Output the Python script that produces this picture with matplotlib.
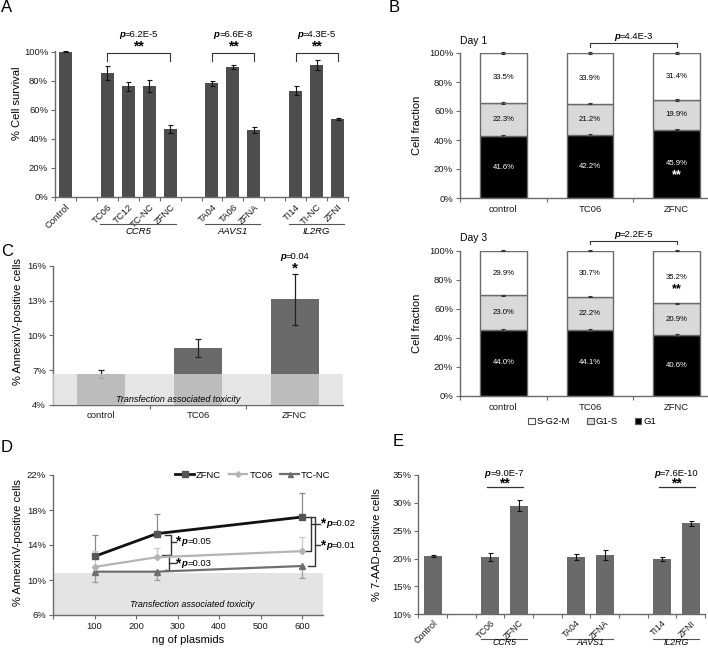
import numpy as np
import matplotlib
matplotlib.use('Agg')
import matplotlib.pyplot as plt
from matplotlib.patches import Patch
from matplotlib.transforms import offset_copy

plt.rcParams['font.family'] = ['Liberation Sans', 'DejaVu Sans']
plt.rcParams['font.size'] = 7

# ---------------- data ----------------
# A: cell survival
a_labels = ['Control', 'TC06', 'TC12', 'TC-NC', 'ZFNC', 'TA04', 'TA06', 'ZFNA', 'TI14', 'TI-NC', 'ZFNI']
a_vals = [100, 85.5, 76.2, 76.5, 46.8, 78.3, 89.7, 45.9, 73.3, 91.1, 53.9]
a_err = [0.4, 5.0, 3.0, 4.0, 2.5, 1.5, 1.5, 2.0, 3.0, 3.5, 0.8]
a_groups = ['CCR5', 'AAVS1', 'IL2RG']
a_pvals = ['6.2E-5', '6.6E-8', '4.3E-5']

# B: cell cycle
b_cats = ['control', 'TC06', 'ZFNC']
b_phases = ['S-G2-M', 'G1-S', 'G1']
b_day1_g1 = [41.6, 42.2, 45.9]
b_day1_g1s = [22.3, 21.2, 19.9]
b_day1_sg2m = [33.5, 33.9, 31.4]
b_day3_g1 = [44.0, 44.1, 40.6]
b_day3_g1s = [23.0, 22.2, 20.9]
b_day3_sg2m = [29.9, 30.7, 35.2]
b_pvals = ['4.4E-3', '2.2E-5']

# C: annexin V
c_cats = ['control', 'TC06', 'ZFNC']
c_vals = [6.65, 8.9, 13.1]
c_err = [0.35, 0.8, 2.2]

# D: dose response
d_ng = [100, 250, 600]
d_zfnc = [12.7, 15.3, 17.2]
d_tc06 = [11.5, 12.6, 13.3]
d_tcnc = [10.95, 10.95, 11.6]
d_zfnc_err = [2.5, 2.3, 2.8]
d_tc06_err = [1.8, 1.1, 1.6]
d_tcnc_err = [1.15, 1.0, 1.4]
d_band = 10.8

# E: 7-AAD
e_labels = ['Control', 'TC06', 'ZFNC', 'TA04', 'ZFNA', 'TI14', 'ZFNI']
e_vals = [20.4, 20.35, 29.5, 20.3, 20.65, 20.0, 26.3]
e_err = [0.2, 0.7, 0.95, 0.5, 0.9, 0.35, 0.4]
e_pvals = ['9.0E-7', '7.6E-10']

# layout slots (gaps between target groups)
a_pos = [0, 2, 3, 4, 5, 7, 8, 9, 11, 12, 13]
e_pos = [0, 2, 3, 5, 6, 8, 9]

W, H = 708, 648
fig = plt.figure(figsize=(W / 100, H / 100), dpi=100)
renderer = fig.canvas.get_renderer()


def rect(left, right, top, bottom):
    return [left / W, 1 - bottom / H, (right - left) / W, (bottom - top) / H]


def style_axes(ax):
    for s in ['top', 'right']:
        ax.spines[s].set_visible(False)
    for s in ['left', 'bottom']:
        ax.spines[s].set_color('#6a6a6a')
        ax.spines[s].set_linewidth(1.0)
    ax.tick_params(axis='both', which='both', colors='#6a6a6a', labelcolor='#1a1a1a',
                   labelsize=6.8, length=3, width=0.8, pad=2)


def rich_text(ax, x, y, parts, ha='center', size=6.8, transform=None):
    if transform is None:
        transform = ax.transData
    items = []
    total = 0
    for s, kw in parts:
        opts = dict(fontsize=size)
        opts.update(kw)
        t = ax.text(x, y, s, ha='left', va='center', transform=transform,
                    clip_on=False, **opts)
        w = t.get_window_extent(renderer).width
        items.append((t, w))
        total += w
    start = -total / 2 if ha == 'center' else 0
    for t, w in items:
        t.set_transform(offset_copy(transform, fig=fig, x=start, y=0, units='dots'))
        start += w


def p_label(ax, x, y, val, ha='center', size=6.8, star=False):
    parts = []
    if star:
        parts.append(('*', dict(fontweight='bold', fontsize=size + 3)))
    parts.append(('p', dict(fontweight='bold', style='italic')))
    parts.append(('=' + val, {}))
    rich_text(ax, x, y, parts, ha=ha, size=size)


def pct(ax, ticks):
    ax.set_yticks(ticks)
    ax.set_yticklabels([f'{t}%' for t in ticks])


# ---------------- A ----------------
axA = fig.add_axes(rect(55, 348, 51, 197))
style_axes(axA)
axA.bar(a_pos, a_vals, width=0.62, color='#4d4d4d', zorder=2)
axA.errorbar(a_pos, a_vals, yerr=a_err, fmt='none', ecolor='#111111', elinewidth=0.8,
             capsize=1.8, capthick=0.8, zorder=3)
axA.set_xlim(-0.5, 13.5)
axA.set_ylim(0, 100.6)
pct(axA, [0, 20, 40, 60, 80, 100])
axA.set_xticks(a_pos)
axA.set_xticklabels(a_labels, rotation=45, ha='right', rotation_mode='anchor')
axA.set_xticks(np.arange(-0.5, 14, 1), minor=True)
axA.tick_params(axis='x', which='major', length=0, pad=4)
axA.set_ylabel('% Cell survival', fontsize=8)
axA.yaxis.set_label_coords(-0.113, 0.64)
a_spans = [(2, 5), (7, 9), (11, 13)]
for (x0, x1), g, pv in zip(a_spans, a_groups, a_pvals):
    axA.plot([x0, x0, x1, x1], [93.8, 99.3, 99.3, 93.8], color='#333333', lw=0.8, clip_on=False)
    axA.text((x0 + x1) / 2, 103.5, '**', ha='center', va='center', fontsize=10,
             fontweight='bold', clip_on=False)
    p_label(axA, (x0 + x1) / 2, 112, pv)
    axA.plot([x0 - 0.33, x1 + 0.3], [-18.5, -18.5], color='#555555', lw=0.8, clip_on=False)
    axA.text((x0 + x1) / 2, -23.5, g, ha='center', va='center', style='italic',
             fontsize=6.8, clip_on=False)


# ---------------- B ----------------
def cycle_panel(top, bottom, g1, g1s, sg2m, day, pval, stars_phase):
    ax = fig.add_axes(rect(460, 708, top, bottom))
    style_axes(ax)
    x = np.arange(len(b_cats))
    g1, g1s, sg2m = np.array(g1), np.array(g1s), np.array(sg2m)
    tot = g1 + g1s + sg2m
    n1, n2, n3 = g1 / tot * 100, g1s / tot * 100, sg2m / tot * 100
    ec = '#6a6a6a'
    ax.bar(x, n1, width=0.54, color='black', edgecolor=ec, lw=1, zorder=2)
    ax.bar(x, n2, width=0.54, bottom=n1, color='#d9d9d9', edgecolor=ec, lw=1, zorder=2)
    ax.bar(x, n3, width=0.54, bottom=n1 + n2, color='white', edgecolor=ec, lw=1, zorder=2)
    for yy in [n1, n1 + n2, n1 + n2 + n3]:
        ax.errorbar(x, yy, yerr=0.5, fmt='none', ecolor='#333333', elinewidth=0.8,
                    capsize=1.5, capthick=0.8, zorder=3, clip_on=False)
    for i in range(len(x)):
        ax.text(x[i], n1[i] / 2, f'{g1[i]:.1f}%', ha='center', va='center', color='white', fontsize=5.6)
        ax.text(x[i], n1[i] + n2[i] / 2, f'{g1s[i]:.1f}%', ha='center', va='center', fontsize=5.6)
        ax.text(x[i], n1[i] + n2[i] + n3[i] / 2, f'{sg2m[i]:.1f}%', ha='center', va='center', fontsize=5.6)
    # significance stars inside ZFNC bar
    if stars_phase == 'G1':
        ax.text(2, n1[2] / 2 - 8, '**', ha='center', va='center', color='white',
                fontsize=9, fontweight='bold')
    else:
        ax.text(2, n1[2] + n2[2] + n3[2] / 2 - 8, '**', ha='center', va='center',
                fontsize=9, fontweight='bold')
    ax.set_xlim(-0.5, -0.5 + 248 / 86.7)
    ax.set_ylim(0, 100)
    pct(ax, [0, 20, 40, 60, 80, 100])
    ax.set_xticks(x)
    ax.set_xticklabels(b_cats)
    ax.set_xticks([-0.5, 0.5, 1.5], minor=True)
    ax.tick_params(axis='x', which='major', length=0, pad=5)
    ax.set_ylabel('Cell fraction', fontsize=8)
    ax.yaxis.set_label_coords(-0.155, 0.5)
    ax.text(0, 1.085, day, transform=ax.transAxes, ha='left', va='center', fontsize=7.5)
    ax.plot([1, 1, 2, 2], [104.3, 107, 107, 104.3], color='#333333', lw=0.8, clip_on=False)
    p_label(ax, 1.5, 111.5, pval)
    return ax


cycle_panel(53, 198, b_day1_g1, b_day1_g1s, b_day1_sg2m, 'Day 1', b_pvals[0], 'G1')
cycle_panel(250.7, 395.7, b_day3_g1, b_day3_g1s, b_day3_sg2m, 'Day 3', b_pvals[1], 'S-G2-M')
b_handles = [Patch(facecolor='white', edgecolor='#555555', lw=0.8, label=b_phases[0]),
             Patch(facecolor='#d9d9d9', edgecolor='#555555', lw=0.8, label=b_phases[1]),
             Patch(facecolor='black', edgecolor='#555555', lw=0.8, label=b_phases[2])]
fig.legend(handles=b_handles, loc='center', bbox_to_anchor=(592 / W, 1 - 421.7 / H), ncol=3,
           frameon=False, fontsize=6.8, handlelength=0.7, handleheight=0.7,
           handletextpad=0.2, columnspacing=1.8)

# ---------------- C ----------------
axC = fig.add_axes(rect(53, 343, 265.7, 405))
style_axes(axC)
xc = np.arange(len(c_cats))
axC.bar(xc, c_vals, width=0.5, color='#6a6a6a', zorder=2)
axC.errorbar(xc, c_vals, yerr=c_err, fmt='none', ecolor='#222222', elinewidth=0.9,
             capsize=2, capthick=0.9, zorder=2.5)
axC.axhspan(4, c_vals[0], color='#dcdcdc', alpha=0.72, zorder=3, lw=0)
axC.text(0.79, 4.45, 'Transfection associated toxicity', ha='center', va='center',
         style='italic', fontsize=6.5, zorder=4)
axC.set_xlim(-0.5, 2.5)
axC.set_ylim(4, 16)
pct(axC, [4, 7, 10, 13, 16])
axC.set_xticks(xc)
axC.set_xticklabels(c_cats)
axC.set_xticks([0.5, 1.5], minor=True)
axC.tick_params(axis='x', which='major', length=0, pad=4)
axC.set_ylabel('% AnnexinV-positive cells', fontsize=8)
axC.yaxis.set_label_coords(-0.102, 0.6)
axC.text(2, 15.75, '*', ha='center', va='center', fontsize=11, fontweight='bold', clip_on=False)
p_label(axC, 2, 16.8, '0.04')

# ---------------- D ----------------
axD = fig.add_axes(rect(53, 323, 475, 615))
style_axes(axD)
axD.axhspan(6, d_band, color='#e4e4e4', zorder=0, lw=0)
z = np.zeros(3)
axD.errorbar(d_ng, d_zfnc, yerr=[z, d_zfnc_err], fmt='none', ecolor='#8a8a8a',
             elinewidth=0.9, capsize=2, capthick=0.9, zorder=1)
axD.errorbar(d_ng, d_tc06, yerr=[z, d_tc06_err], fmt='none', ecolor='#c8c8c8',
             elinewidth=0.9, capsize=2, capthick=0.9, zorder=1)
axD.errorbar(d_ng, d_tcnc, yerr=[d_tcnc_err, z], fmt='none', ecolor='#9a9a9a',
             elinewidth=0.9, capsize=2, capthick=0.9, zorder=1)
axD.plot(d_ng, d_tcnc, color='#6e6e6e', lw=1.6, marker='^', ms=4, mfc='#6e6e6e', mec='#6e6e6e',
         zorder=3, label='TC-NC')
axD.plot(d_ng, d_tc06, color='#b4b4b4', lw=1.6, marker='D', ms=3.2, mfc='#b4b4b4', mec='#b4b4b4',
         zorder=3, label='TC06')
axD.plot(d_ng, d_zfnc, color='#111111', lw=2, marker='s', ms=5, mfc='#555555', mec='#555555',
         zorder=4, label='ZFNC')
axD.set_xlim(0, 650)
axD.set_ylim(6, 22)
pct(axD, [6, 10, 14, 18, 22])
axD.set_xticks([0, 100, 200, 300, 400, 500, 600])
axD.set_xticklabels(['', '100', '200', '300', '400', '500', '600'])
axD.set_xlabel('ng of plasmids', fontsize=8, labelpad=3)
axD.set_ylabel('% AnnexinV-positive cells', fontsize=8)
axD.yaxis.set_label_coords(-0.11, 0.52)
axD.text(336, 7.15, 'Transfection associated toxicity', ha='center', va='center',
         style='italic', fontsize=6.5)
hD, lD = axD.get_legend_handles_labels()
axD.legend(hD[::-1], lD[::-1], loc='center', bbox_to_anchor=(0.74, 1.0), ncol=3, frameon=False,
           fontsize=6.8, handlelength=2.0, handletextpad=0.2, columnspacing=0.8, markerscale=0.9)
bk = dict(color='#333333', lw=1, clip_on=False)
# brackets at 250 ng
axD.plot([270, 283, 283, 262], [15.2, 15.2, 12.9, 12.9], **bk)
axD.plot([283, 296], [14.4, 14.4], **bk)
p_label(axD, 297, 14.4, '0.05', ha='left', star=True)
axD.plot([280, 280, 270], [12.9, 11.2, 11.2], **bk)
axD.plot([280, 296], [11.9, 11.9], **bk)
p_label(axD, 297, 11.9, '0.03', ha='left', star=True)
# brackets at 600 ng
axD.plot([602, 622, 622, 609], [17.2, 17.2, 13.35, 13.35], **bk)
axD.plot([622, 643], [16.45, 16.45], **bk)
p_label(axD, 644, 16.45, '0.02', ha='left', star=True)
axD.plot([622, 631, 631, 614], [17.2, 17.2, 11.6, 11.6], **bk)
axD.plot([631, 643], [14.0, 14.0], **bk)
p_label(axD, 644, 14.0, '0.01', ha='left', star=True)

# ---------------- E ----------------
axE = fig.add_axes(rect(418.3, 705, 475, 614.3))
style_axes(axE)
axE.bar(e_pos, e_vals, width=0.62, color='#6a6a6a', zorder=2)
axE.errorbar(e_pos, e_vals, yerr=e_err, fmt='none', ecolor='#111111', elinewidth=0.8,
             capsize=1.8, capthick=0.8, zorder=3)
axE.set_xlim(-0.5, 9.5)
axE.set_ylim(10, 35)
pct(axE, [10, 15, 20, 25, 30, 35])
axE.set_xticks(e_pos)
axE.set_xticklabels(e_labels, rotation=45, ha='right', rotation_mode='anchor', fontsize=6.5)
axE.set_xticks(np.arange(-0.5, 10, 1), minor=True)
axE.tick_params(axis='x', which='major', length=0, pad=3)
axE.set_ylabel('% 7-AAD-positive cells', fontsize=8)
axE.yaxis.set_label_coords(-0.128, 0.5)
e_spans = [(2, 3), (5, 6), (8, 9)]
# group labels squeezed in above the bottom edge
for (x0, x1), g in zip(e_spans, a_groups):
    axE.plot([x0 - 0.3, x1 + 0.3], [5.6, 5.6], color='#555555', lw=0.8, clip_on=False)
    axE.text((x0 + x1) / 2, 4.1, g, ha='center', va='bottom', style='italic', fontsize=6.3,
             clip_on=False)
for (x0, x1), pv in zip([e_spans[0], e_spans[2]], e_pvals):
    axE.plot([x0 - 0.1, x1 + 0.15], [32.8, 32.8], color='#333333', lw=0.9, clip_on=False)
    axE.text((x0 + x1) / 2, 33.4, '**', ha='center', va='center', fontsize=10,
             fontweight='bold', clip_on=False)
    p_label(axE, (x0 + x1) / 2, 35.2, pv)

# panel letters
for lab, px, py in [('A', 1, 7.5), ('B', 389, 7.5), ('C', 1, 252), ('D', 1, 448), ('E', 393, 441.5)]:
    fig.text(px / W, 1 - py / H, lab, fontsize=12, ha='left', va='center')

fig.savefig('out.png', dpi=100)
